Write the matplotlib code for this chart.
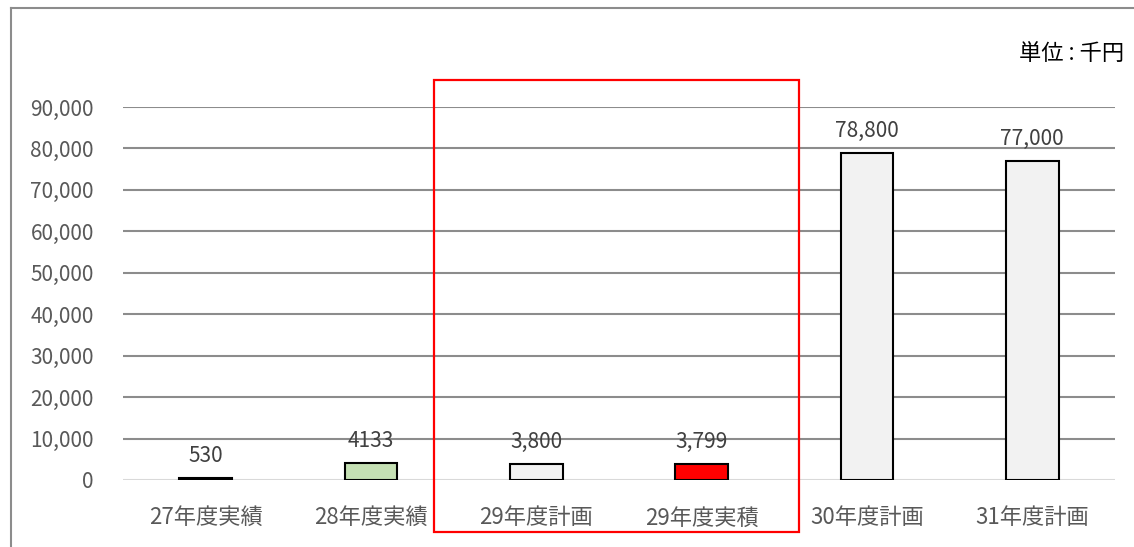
import matplotlib
matplotlib.use("Agg")
from matplotlib import pyplot as plt
from matplotlib.patches import Rectangle
from matplotlib.lines import Line2D

plt.rcParams['font.family'] = ['Noto Sans CJK JP', 'DejaVu Sans']

# 年度別の金額（単位：千円）
categories = ["27年度実績", "28年度実績", "29年度計画", "29年度実積", "30年度計画", "31年度計画"]
values = [530, 4133, 3800, 3799, 78800, 77000]
value_labels = ["530", "4133", "3,800", "3,799", "78,800", "77,000"]
bar_colors = ["#F2F2F2", "#C5E0B4", "#F2F2F2", "#FF0000", "#F2F2F2", "#F2F2F2"]
yticks = list(range(0, 90001, 10000))

fig = plt.figure(figsize=(11.34, 5.47), dpi=100)
ax = fig.add_axes([0.1085, 0.1225, 0.8747, 0.6819])

x = range(len(categories))
ax.bar(x, values, width=0.32, color=bar_colors, edgecolor="black", linewidth=1.5, zorder=3)

for i, (v, lab) in enumerate(zip(values, value_labels)):
    ax.annotate(lab, (i, v), xytext=(0, 8), textcoords="offset points",
                ha="center", va="bottom", fontsize=15, color="#404040", zorder=4)

ax.set_xlim(-0.5, len(categories) - 0.5)
ax.set_ylim(0, 90000)
ax.set_yticks(yticks)
ax.set_yticklabels([f"{t:,}" for t in yticks], fontsize=15, color="#595959")
ax.set_xticks(list(x))
ax.set_xticklabels(categories, fontsize=16, color="#595959")
ax.tick_params(axis="both", length=0)
ax.tick_params(axis="y", pad=21)
ax.tick_params(axis="x", pad=19)

for t in yticks[1:]:
    ax.axhline(t, color="#8C8C8C", linewidth=1.5, zorder=1)
ax.axhline(0, color="#D9D9D9", linewidth=1.5, zorder=2)

for s in ax.spines.values():
    s.set_visible(False)

# 単位表示
fig.text(0.991, 0.903, "単位 : 千円", ha="right", va="center", fontsize=16, color="black")

# 29年度の強調枠
fig.patches.append(Rectangle((434 / 1134, 1 - 532 / 547), 365 / 1134, 452 / 547,
                             transform=fig.transFigure, fill=False,
                             edgecolor="#FF0000", linewidth=1.6, zorder=5))

# 外枠（上辺・左辺）
fig.lines.append(Line2D([11 / 1134, 1], [1 - 8 / 547, 1 - 8 / 547],
                        transform=fig.transFigure, color="#8C8C8C", linewidth=1.5))
fig.lines.append(Line2D([11 / 1134, 11 / 1134], [0, 1 - 8 / 547],
                        transform=fig.transFigure, color="#8C8C8C", linewidth=1.5))

fig.savefig("out.png", dpi=100)
